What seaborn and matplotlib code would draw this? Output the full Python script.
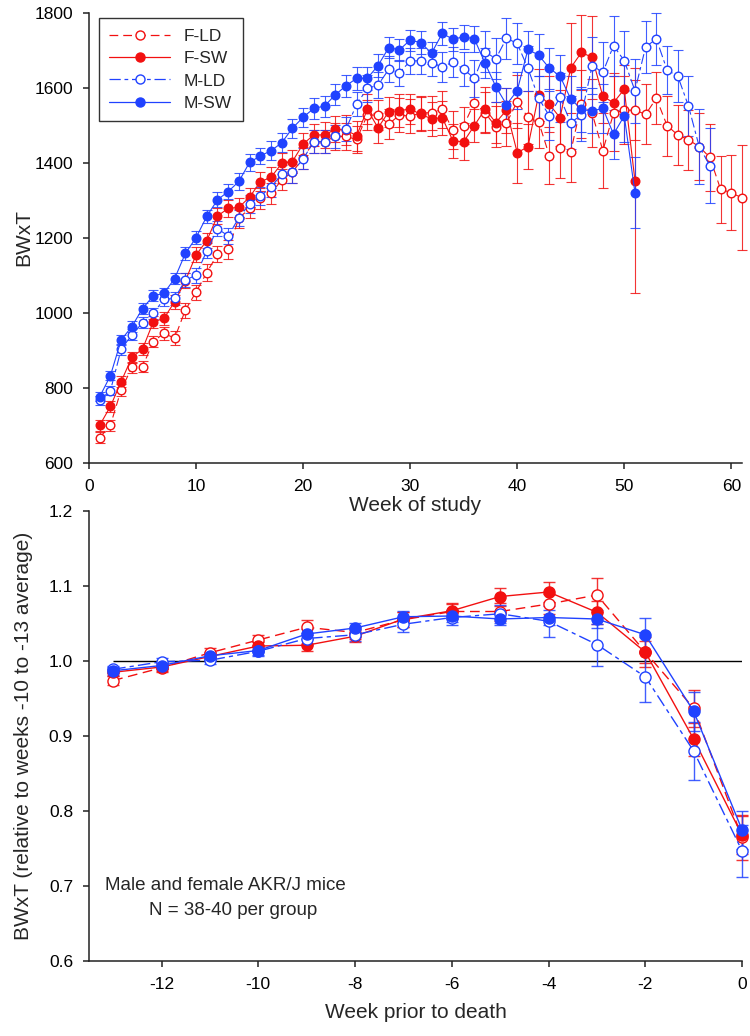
#!/usr/bin/env python3

import matplotlib

matplotlib.use("Agg")
import matplotlib.pyplot as plt
import pandas as pd
import seaborn as sns
from matplotlib.lines import Line2D

# -----------------------------------------------------------------
# Top panel: BWxT by week of study (mean and SEM per group)
# -----------------------------------------------------------------
weeks_fld = list(range(1, 62))
weeks_fsw = list(range(1, 52))
weeks_mld = list(range(1, 59))
weeks_msw = list(range(1, 52))

fld_mean = [667, 700, 794, 854, 856, 923, 945, 932, 1007, 1055,
            1107, 1156, 1169, 1252, 1278, 1305, 1318, 1354, 1375, 1412,
            1456, 1456, 1470, 1470, 1462, 1527, 1527, 1503, 1527, 1524,
            1533, 1533, 1542, 1487, 1499, 1560, 1533, 1496, 1505, 1563,
            1521, 1509, 1419, 1440, 1429, 1557, 1532, 1432, 1532, 1540,
            1540, 1529, 1572, 1499, 1474, 1461, 1443, 1414, 1329, 1320, 1306]
fld_sem = [15, 15, 15, 15, 15, 15, 18, 18, 20, 20,
           22, 22, 25, 25, 25, 28, 28, 28, 30, 30,
           30, 30, 35, 35, 35, 40, 40, 40, 45, 45,
           45, 45, 50, 50, 50, 60, 55, 55, 60, 70,
           70, 70, 75, 80, 80, 90, 90, 100, 100, 90,
           80, 80, 70, 80, 80, 80, 90, 90, 90, 100, 140]

fsw_mean = [700, 750, 816, 881, 903, 975, 985, 1029, 1085, 1154,
            1192, 1258, 1278, 1281, 1308, 1349, 1361, 1398, 1403, 1450,
            1474, 1474, 1489, 1487, 1472, 1542, 1493, 1536, 1539, 1543,
            1529, 1517, 1520, 1458, 1456, 1499, 1543, 1507, 1540, 1427,
            1442, 1581, 1556, 1520, 1653, 1694, 1681, 1577, 1560, 1596, 1352]
fsw_sem = [15, 15, 15, 15, 15, 15, 18, 18, 20, 20,
           20, 22, 22, 25, 25, 25, 28, 28, 30, 30,
           30, 35, 35, 40, 40, 40, 40, 40, 45, 40,
           45, 45, 45, 45, 50, 45, 60, 55, 60, 80,
           60, 70, 75, 75, 120, 100, 110, 70, 80, 65, 300]

mld_mean = [767, 792, 902, 941, 973, 998, 1036, 1038, 1087, 1100,
            1165, 1224, 1205, 1253, 1290, 1311, 1334, 1370, 1375, 1410,
            1456, 1456, 1470, 1489, 1556, 1598, 1607, 1649, 1640, 1671,
            1672, 1665, 1656, 1668, 1649, 1625, 1696, 1677, 1732, 1718,
            1652, 1572, 1525, 1574, 1507, 1527, 1659, 1641, 1712, 1672,
            1592, 1709, 1730, 1647, 1631, 1551, 1443, 1392]
mld_sem = [12, 12, 14, 15, 15, 15, 18, 18, 18, 20,
           20, 20, 22, 22, 25, 25, 25, 25, 28, 28,
           30, 30, 30, 32, 32, 35, 35, 35, 35, 35,
           35, 35, 40, 40, 45, 50, 55, 55, 55, 55,
           60, 60, 65, 65, 70, 70, 75, 80, 80, 80,
           85, 70, 70, 65, 70, 80, 100, 100]

msw_mean = [776, 832, 927, 963, 1011, 1045, 1052, 1091, 1158, 1200,
            1257, 1301, 1323, 1350, 1401, 1418, 1432, 1453, 1492, 1521,
            1545, 1551, 1581, 1605, 1625, 1625, 1659, 1707, 1701, 1727,
            1720, 1692, 1745, 1729, 1736, 1730, 1665, 1603, 1555, 1592,
            1702, 1687, 1652, 1631, 1570, 1542, 1538, 1545, 1476, 1525, 1320]
msw_sem = [12, 12, 14, 14, 15, 15, 15, 15, 18, 18,
           18, 20, 20, 22, 22, 22, 25, 25, 25, 25,
           28, 28, 28, 30, 30, 30, 30, 28, 30, 28,
           30, 30, 30, 30, 32, 35, 40, 40, 45, 50,
           50, 55, 55, 55, 60, 60, 60, 65, 65, 70, 95]

# -----------------------------------------------------------------
# Bottom panel: BWxT relative to weeks -10 to -13, by week prior to death
# -----------------------------------------------------------------
weeks_rel = list(range(-13, 1))
fld_rel = [0.974, 0.991, 1.011, 1.028, 1.045, 1.038, 1.055,
           1.066, 1.066, 1.076, 1.088, 1.012, 0.937, 0.765]
fld_rel_sem = [0.006, 0.005, 0.006, 0.007, 0.010, 0.008, 0.010,
               0.010, 0.012, 0.013, 0.023, 0.020, 0.025, 0.030]
fsw_rel = [0.985, 0.992, 1.006, 1.020, 1.021, 1.033, 1.056,
           1.067, 1.086, 1.092, 1.065, 1.012, 0.896, 0.768]
fsw_rel_sem = [0.005, 0.005, 0.005, 0.006, 0.008, 0.008, 0.010,
               0.010, 0.012, 0.013, 0.015, 0.015, 0.022, 0.025]
mld_rel = [0.989, 0.999, 1.001, 1.013, 1.030, 1.035, 1.049,
           1.058, 1.063, 1.053, 1.022, 0.979, 0.880, 0.747]
mld_rel_sem = [0.005, 0.005, 0.005, 0.006, 0.008, 0.008, 0.010,
               0.010, 0.012, 0.021, 0.028, 0.033, 0.039, 0.035]
msw_rel = [0.987, 0.994, 1.007, 1.014, 1.036, 1.044, 1.059,
           1.060, 1.056, 1.058, 1.056, 1.035, 0.933, 0.775]
msw_rel_sem = [0.005, 0.005, 0.005, 0.006, 0.007, 0.007, 0.008,
               0.008, 0.008, 0.010, 0.012, 0.023, 0.026, 0.025]

RED = "#f21010"
BLUE = "#2042ff"

group_styles = {
    "F-LD": dict(color=RED, ls=(0, (7, 4)), face="white"),
    "F-SW": dict(color=RED, ls="-", face=RED),
    "M-LD": dict(color=BLUE, ls=(0, (9, 3, 3, 3)), face="white"),
    "M-SW": dict(color=BLUE, ls="-", face=BLUE),
}

top_data = {
    "F-LD": pd.DataFrame({"week": weeks_fld, "value": fld_mean, "sem": fld_sem}),
    "F-SW": pd.DataFrame({"week": weeks_fsw, "value": fsw_mean, "sem": fsw_sem}),
    "M-LD": pd.DataFrame({"week": weeks_mld, "value": mld_mean, "sem": mld_sem}),
    "M-SW": pd.DataFrame({"week": weeks_msw, "value": msw_mean, "sem": msw_sem}),
}
bottom_data = {
    "F-LD": pd.DataFrame({"week": weeks_rel, "value": fld_rel, "sem": fld_rel_sem}),
    "F-SW": pd.DataFrame({"week": weeks_rel, "value": fsw_rel, "sem": fsw_rel_sem}),
    "M-LD": pd.DataFrame({"week": weeks_rel, "value": mld_rel, "sem": mld_rel_sem}),
    "M-SW": pd.DataFrame({"week": weeks_rel, "value": msw_rel, "sem": msw_rel_sem}),
}

sns.set_style("ticks")
plt.rcParams["font.family"] = ["Liberation Sans", "DejaVu Sans"]
plt.rcParams["axes.unicode_minus"] = False
plt.rcParams["xtick.direction"] = "out"
plt.rcParams["ytick.direction"] = "out"


def draw_group(ax, df, name, lw, ms, cap):
    st = group_styles[name]
    ax.errorbar(
        df["week"], df["value"], yerr=df["sem"], fmt="none",
        ecolor=st["color"], elinewidth=lw, capsize=cap, capthick=lw,
        alpha=0.85, clip_on=False, zorder=2,
    )
    sns.lineplot(
        data=df, x="week", y="value", ax=ax, errorbar=None,
        color=st["color"], linestyle=st["ls"], linewidth=lw,
        marker="o", markersize=ms, markerfacecolor=st["face"],
        markeredgecolor=st["color"], markeredgewidth=1.0,
        clip_on=False, zorder=3,
    )


def style_axis(ax):
    sns.despine(ax=ax)
    for side in ("left", "bottom"):
        ax.spines[side].set_linewidth(1.1)
        ax.spines[side].set_color("#222222")
    ax.tick_params(length=4.5, width=1.1, labelsize=12.5, pad=7, colors="#222222")
    ax.tick_params(labelcolor="black")


fig = plt.figure(figsize=(7.5, 10.36), dpi=100)
ax_top = fig.add_axes([0.11867, 0.55338, 0.87067, 0.43436])
ax_bot = fig.add_axes([0.11867, 0.07239, 0.87067, 0.43436])
# the x label of the top panel sits level with the top of the lower panel
ax_bot.patch.set_visible(False)

# top panel
for name in ["F-LD", "F-SW", "M-LD", "M-SW"]:
    draw_group(ax_top, top_data[name], name, lw=0.8, ms=6.2, cap=3.5)

ax_top.set_xlim(0, 61)
ax_top.set_ylim(600, 1800)
ax_top.set_xticks(range(0, 61, 10))
ax_top.set_yticks(range(600, 1801, 200))
ax_top.set_xlabel("Week of study", fontsize=15, labelpad=2)
ax_top.set_ylabel("BWxT", fontsize=15)
ax_top.yaxis.set_label_coords(-0.086, 0.5)
style_axis(ax_top)

handles = [
    Line2D([0], [0], color=group_styles[n]["color"], linestyle=group_styles[n]["ls"],
           linewidth=0.9, marker="o", markersize=6.5,
           markerfacecolor=group_styles[n]["face"],
           markeredgecolor=group_styles[n]["color"])
    for n in group_styles
]
leg = ax_top.legend(
    handles, list(group_styles), loc="upper left",
    bbox_to_anchor=(0.0153, 0.988), fontsize=12.5, frameon=True,
    fancybox=False, edgecolor="black", handlelength=3.5, handletextpad=0.8,
    labelspacing=0.42, borderpad=0.6, borderaxespad=0.0,
)
leg.get_frame().set_linewidth(1.0)

# bottom panel
ax_bot.hlines(1.0, weeks_rel[0], weeks_rel[-1], color="black", linewidth=1.0, zorder=1)
for name in ["F-LD", "F-SW", "M-LD", "M-SW"]:
    draw_group(ax_bot, bottom_data[name], name, lw=1.0, ms=8, cap=4.3)

ax_bot.set_xlim(-13.5, 0)
ax_bot.set_ylim(0.6, 1.2)
ax_bot.set_xticks(range(-12, 1, 2))
ax_bot.set_yticks([0.6, 0.7, 0.8, 0.9, 1.0, 1.1, 1.2])
ax_bot.set_yticklabels(["0.6", "0.7", "0.8", "0.9", "1.0", "1.1", "1.2"])
ax_bot.set_xlabel("Week prior to death", fontsize=15, labelpad=8)
ax_bot.set_ylabel("BWxT (relative to weeks -10 to -13 average)", fontsize=15)
ax_bot.yaxis.set_label_coords(-0.086, 0.5)
style_axis(ax_bot)

ax_bot.text(0.0245, 0.167, "Male and female AKR/J mice", transform=ax_bot.transAxes,
            fontsize=13.5, ha="left", va="center")
ax_bot.text(0.092, 0.113, "N = 38-40 per group", transform=ax_bot.transAxes,
            fontsize=13.5, ha="left", va="center")

fig.savefig("out.png", dpi=100)
plt.close(fig)
